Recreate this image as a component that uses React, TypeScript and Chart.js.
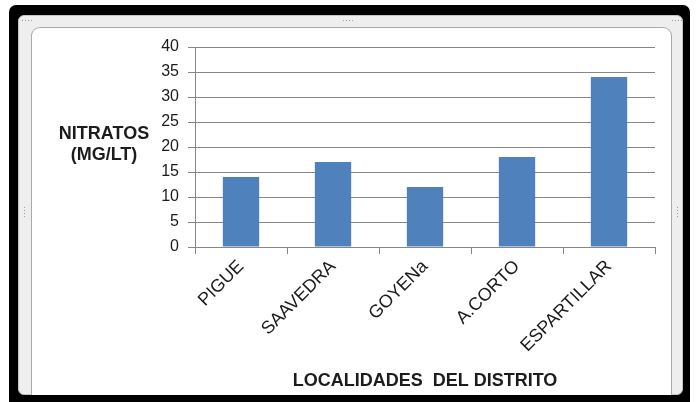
import React, { useEffect, useRef } from "react";
import { Chart, registerables } from "chart.js";

Chart.register(...registerables);

// Nitrate concentration per locality
const localidades = ["PIGUE", "SAAVEDRA", "GOYENa", "A.CORTO", "ESPARTILLAR"];
const nitratos = [14, 17, 12, 18, 34];
const yTicks = [0, 5, 10, 15, 20, 25, 30, 35, 40];
const yTitleLines = ["NITRATOS", "(MG/LT)"];
const xTitle = "LOCALIDADES  DEL DISTRITO";

const FONT = "Arial, 'Liberation Sans', sans-serif";
const GRID = "#878787";
const TEXT = "#1c1c1c";

// Horizontal, two-line title to the left of the value axis
const yTitlePlugin = {
  id: "yTitleHorizontal",
  afterDraw(chart: any) {
    const { ctx } = chart;
    const yScale = chart.scales.y;
    ctx.save();
    ctx.font = `bold 18px ${FONT}`;
    ctx.fillStyle = TEXT;
    ctx.textAlign = "center";
    ctx.textBaseline = "middle";
    const cx = yScale.left - 26;
    const cy = yScale.getPixelForValue(20.5);
    ctx.fillText(yTitleLines[0], cx, cy - 10.5);
    ctx.fillText(yTitleLines[1], cx, cy + 10.5);
    ctx.restore();
  },
};

function NitratosChart() {
  const ref = useRef<HTMLCanvasElement | null>(null);

  useEffect(() => {
    if (!ref.current) return;
    const chart = new Chart(ref.current, {
      type: "bar",
      data: {
        labels: localidades,
        datasets: [
          {
            data: nitratos,
            backgroundColor: "#4f81bd",
            borderWidth: 0,
            categoryPercentage: 1,
            barPercentage: 0.395,
          },
        ],
      },
      options: {
        responsive: false,
        animation: false,
        devicePixelRatio: 1,
        layout: { padding: { left: 130, right: 42, top: 47, bottom: 8 } },
        plugins: {
          legend: { display: false },
          tooltip: { enabled: false },
        },
        scales: {
          x: {
            offset: true,
            grid: {
              offset: true,
              drawOnChartArea: false,
              drawTicks: true,
              tickLength: 7,
              color: GRID,
            },
            border: { color: GRID },
            ticks: {
              autoSkip: false,
              maxRotation: 45,
              minRotation: 45,
              padding: 2,
              color: TEXT,
              font: { family: FONT, size: 18 },
            },
            title: {
              display: true,
              text: xTitle,
              color: TEXT,
              font: { family: FONT, size: 18, weight: "bold" },
              padding: { top: 0, bottom: 2 },
            },
            afterFit(scale: any) {
              scale.height = 147;
            },
          },
          y: {
            min: 0,
            max: 40,
            afterBuildTicks(scale: any) {
              scale.ticks = yTicks.map((v) => ({ value: v }));
            },
            grid: {
              color: GRID,
              tickLength: 7,
              drawTicks: true,
            },
            border: { color: GRID },
            ticks: {
              padding: 9,
              color: TEXT,
              font: { family: FONT, size: 16 },
            },
            afterFit(scale: any) {
              scale.width = 65;
            },
          },
        },
      },
      plugins: [yTitlePlugin],
    });
    return () => chart.destroy();
  }, []);

  return (
    <canvas
      ref={ref}
      width={697}
      height={402}
      style={{ position: "absolute", left: 0, top: 0, width: 697, height: 402 }}
    />
  );
}

function Grip({ x, y, vertical }: { x: number; y: number; vertical?: boolean }) {
  const dots = [0, 1, 2, 3];
  return (
    <>
      {dots.map((i) => (
        <div
          key={i}
          style={{
            position: "absolute",
            left: vertical ? x : x + i * 3,
            top: vertical ? y + i * 3 : y,
            width: 1,
            height: 1,
            background: "#9a9a9a",
          }}
        />
      ))}
    </>
  );
}

export default function App() {
  useEffect(() => {
    document.body.style.margin = "0";
  }, []);
  return (
    <div
      style={{
        position: "fixed",
        left: 0,
        top: 0,
        width: 697,
        height: 402,
        background: "#ffffff",
        overflow: "hidden",
      }}
    >
      {/* black outer frame */}
      <div
        style={{
          position: "absolute",
          left: 9,
          top: 5,
          width: 681,
          height: 410,
          background: "#000000",
          borderRadius: 7,
        }}
      />
      {/* grey selection frame */}
      <div
        style={{
          position: "absolute",
          left: 18,
          top: 15,
          width: 665,
          height: 380,
          background: "#eeeeee",
          border: "1px solid #c4c4c4",
          borderRadius: 6,
          boxSizing: "border-box",
        }}
      />
      {/* white chart panel */}
      <div
        style={{
          position: "absolute",
          left: 31,
          top: 27,
          width: 641,
          height: 368,
          background: "#ffffff",
          border: "1px solid #a9a9a9",
          borderBottom: "none",
          borderTopLeftRadius: 9,
          borderTopRightRadius: 9,
          boxSizing: "border-box",
        }}
      />
      <Grip x={343} y={20} />
      <Grip x={24} y={207} vertical />
      <Grip x={677} y={207} vertical />
      <Grip x={22} y={20} />
      <Grip x={672} y={20} />
      <NitratosChart />
    </div>
  );
}
